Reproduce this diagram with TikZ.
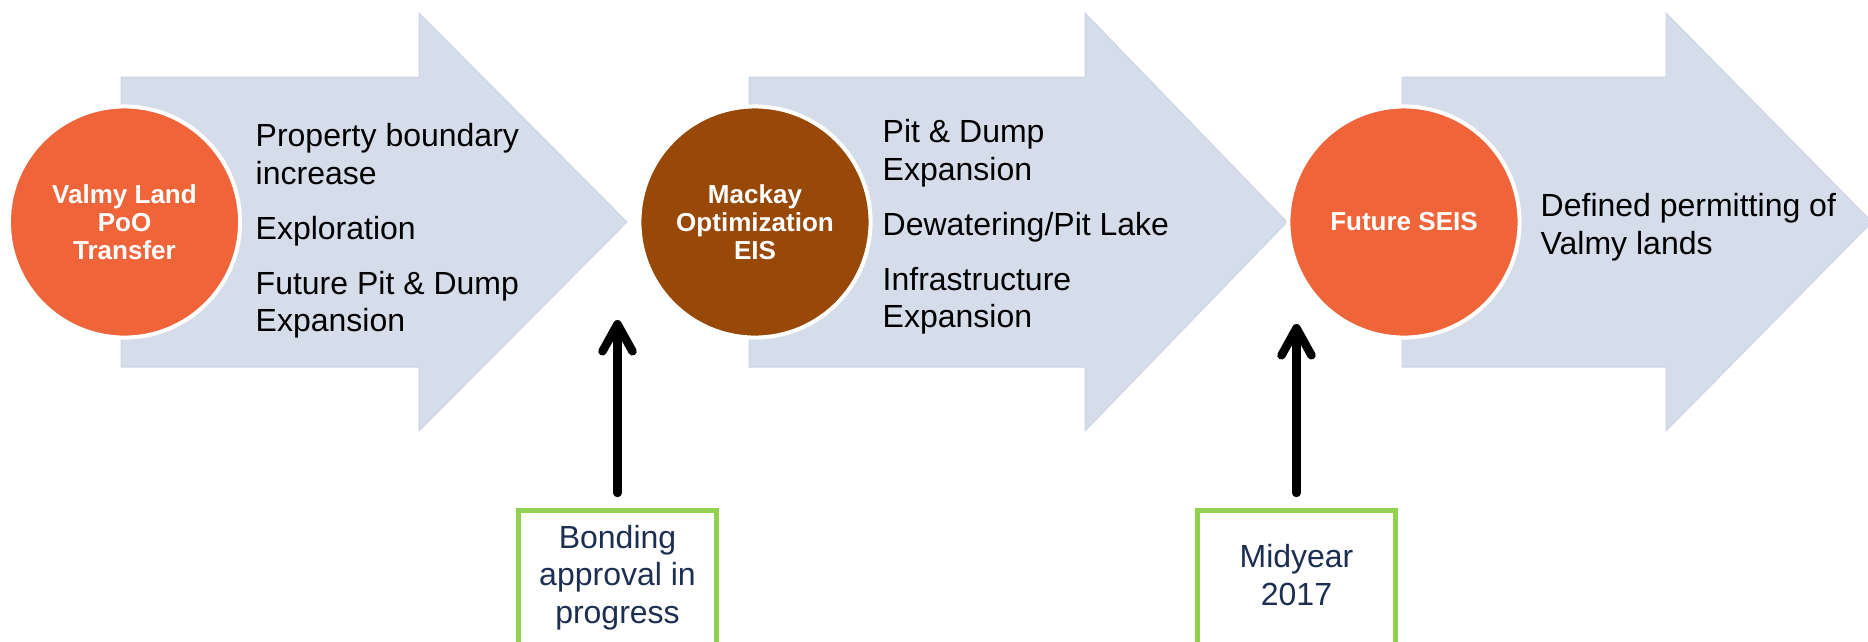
\documentclass[tikz,border=0pt]{standalone}
\usepackage{fontspec}
\setmainfont{Liberation Sans}
\usetikzlibrary{arrows.meta}
\definecolor{arrowfill}{HTML}{D5DCEA}
\definecolor{arrowedge}{HTML}{CCD4E6}
\definecolor{stageorange}{HTML}{EF6439}
\definecolor{stagebrown}{HTML}{984807}
\definecolor{boxgreen}{HTML}{92D050}
\definecolor{boxtext}{HTML}{1C2F52}
\begin{document}
\begin{tikzpicture}[x=0.01cm,y=-0.01cm,
  blockarrow/.style={fill=arrowfill,draw=arrowedge,line width=0.01cm},
  stage/.style={circle,draw=white,line width=0.04cm,minimum size=2.31cm,inner sep=0pt,
    text=white,align=center,font=\fontsize{7.4}{7.97}\selectfont\bfseries},
  items/.style={anchor=west,inner sep=0pt,align=left,font=\fontsize{9.1}{10.67}\selectfont},
  datebox/.style={draw=boxgreen,line width=0.05cm,minimum width=1.98cm,minimum height=1.5cm,inner sep=0pt},
  datetext/.style={inner sep=0pt,align=center,text=boxtext,font=\fontsize{9.1}{10.67}\selectfont},
  milestone/.style={line width=0.085cm,line cap=round,-{Straight Barb[length=0.27cm,width=0.3cm,round]},shorten <=0.15cm}]
\useasboundingbox (0,0) rectangle (1868,641);
% block arrows
\path[blockarrow] (121,77)--(419,77)--(419,13)--(627,222)--(419,431)--(419,367)--(121,367)--cycle;
\path[blockarrow] (749,77)--(1085,77)--(1085,13)--(1287,222)--(1085,431)--(1085,367)--(749,367)--cycle;
\path[blockarrow] (1402,77)--(1666,77)--(1666,13)--(1872,222)--(1666,431)--(1666,367)--(1402,367)--cycle;
% stages
\node[stage,fill=stageorange] (valmy) at (124.5,222) {Valmy Land\\PoO\\Transfer};
\node[stage,fill=stagebrown] (mackay) at (755,222) {Mackay\\Optimization\\EIS};
\node[stage,fill=stageorange] (seis) at (1404,222) {Future SEIS};
% items
\node[items] (valmyitems) at (255,231) {Property boundary\\increase\\[0.175cm]Exploration\\[0.175cm]Future Pit \& Dump\\Expansion};
\node[items] (mackayitems) at (882,227) {Pit \& Dump\\Expansion\\[0.175cm]Dewatering/Pit Lake\\[0.175cm]Infrastructure\\Expansion};
\node[items] (seisitems) at (1540,227) {Defined permitting of\\Valmy lands};
% milestones
\node[datebox] (bondbox) at (617.5,585.5) {};
\node[datetext] (bond) at (617.5,577.5) {Bonding\\approval in\\progress};
\coordinate (bondtip) at (617.5,320);
\draw[milestone] (bondbox.north) -- (bondtip);
\node[datebox] (midbox) at (1296.5,585.5) {};
\node[datetext] (mid) at (1296.5,575) {Midyear\\2017};
\coordinate (midtip) at (1296.5,324);
\draw[milestone] (midbox.north) -- (midtip);
\end{tikzpicture}
\end{document}
